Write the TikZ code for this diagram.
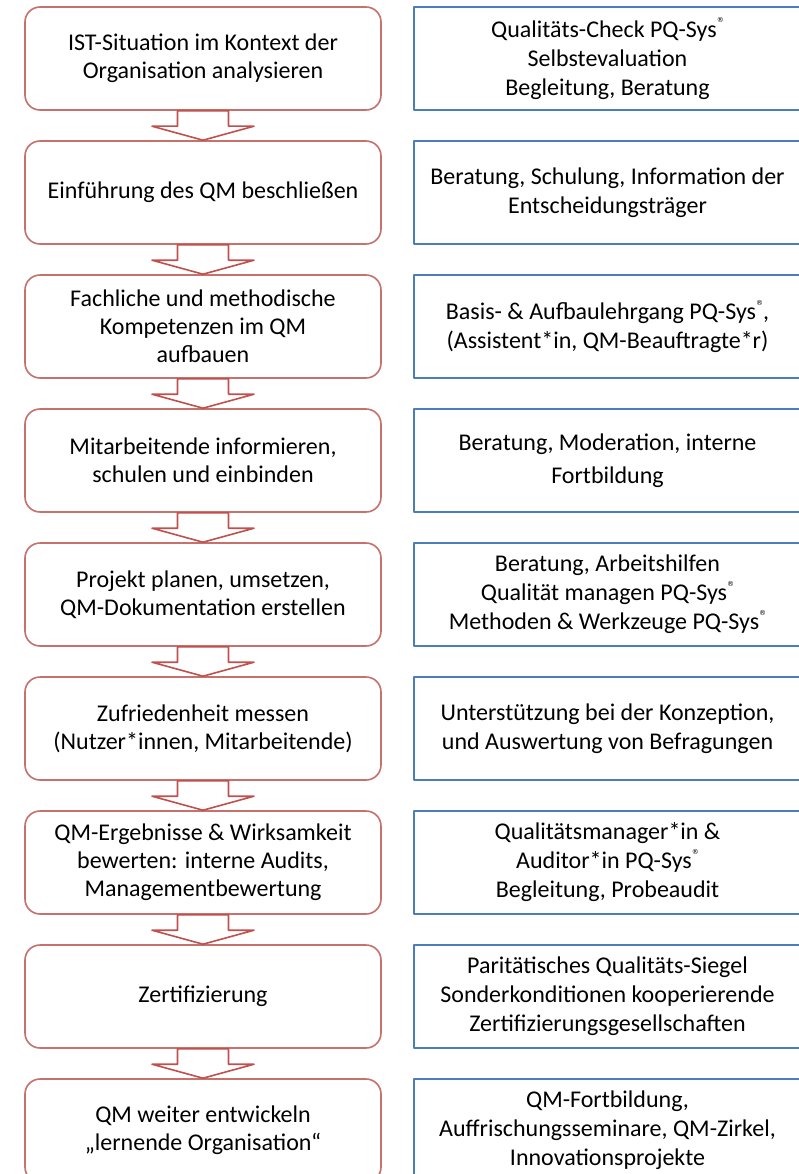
\documentclass[tikz,border=0pt]{standalone}
\usepackage{fontspec}
\setmainfont{Carlito}
\newfontfamily\regfont{DejaVu Sans}
\usetikzlibrary{positioning}
\definecolor{FigureRed}{HTML}{C0504D}
\definecolor{FigureRose}{HTML}{C6716C}
\definecolor{FigureBlue}{HTML}{4A7EBB}
\newcommand{\regmark}{\raisebox{1.25ex}{\regfont\fontsize{7}{7}\selectfont ®}}

\begin{document}
\begin{tikzpicture}[line join=round,
  stepbox/.style={draw=FigureRose,line width=1.6pt,rounded corners=15pt,fill=white,minimum width=356pt,minimum height=103pt,align=center,inner sep=0pt,font=\fontsize{24}{28}\selectfont},
  infobox/.style={draw=FigureBlue,line width=1.6pt,minimum width=387pt,minimum height=103pt,align=center,inner sep=0pt,font=\fontsize{24}{29}\selectfont},
  blockarrow/.style={draw=FigureRed,line width=1.6pt,fill=white}]
  \useasboundingbox (0,0) rectangle (799pt,-1174pt);
  \clip (0,0) rectangle (799pt,-1174pt);
  % steps
  \node[stepbox] (l1) at (203pt,-58.5pt) {IST-Situation im Kontext der\\Organisation analysieren};
  \node[stepbox,below=29.4pt of l1] (l2) {Einführung des QM beschließen};
  \node[stepbox,below=29.4pt of l2] (l3) {Fachliche und methodische\\Kompetenzen im QM\\aufbauen};
  \node[stepbox,below=29.4pt of l3] (l4) {Mitarbeitende informieren,\\schulen und einbinden};
  \node[stepbox,below=29.4pt of l4] (l5) {Projekt planen, umsetzen,\\QM-Dokumentation erstellen};
  \node[stepbox,below=29.4pt of l5] (l6) {Zufriedenheit messen\\(Nutzer*innen, Mitarbeitende)};
  \node[stepbox,below=29.4pt of l6] (l7) {QM-Ergebnisse \& Wirksamkeit\\bewerten: interne Audits,\\Managementbewertung};
  \node[stepbox,below=29.4pt of l7] (l8) {Zertifizierung};
  \node[stepbox,below=29.4pt of l8] (l9) {QM weiter entwickeln\\„lernende Organisation“};
  % offers
  \node[infobox,right=31.4pt of l1] (r1) {Qualitäts-Check PQ-Sys\regmark\\Selbstevaluation\\Begleitung, Beratung};
  \node[infobox,right=31.4pt of l2] (r2) {Beratung, Schulung, Information der\\Entscheidungsträger};
  \node[infobox,right=31.4pt of l3] (r3) {Basis- \& Aufbaulehrgang PQ-Sys\regmark,\\(Assistent*in, QM-Beauftragte*r)};
  \node[infobox,right=31.4pt of l4] (r4) {Beratung, Moderation, interne\\[4pt]Fortbildung};
  \node[infobox,right=31.4pt of l5] (r5) {Beratung, Arbeitshilfen\\Qualität managen PQ-Sys\regmark\\Methoden \& Werkzeuge PQ-Sys\regmark};
  \node[infobox,right=31.4pt of l6] (r6) {Unterstützung bei der Konzeption,\\und Auswertung von Befragungen};
  \node[infobox,right=31.4pt of l7] (r7) {Qualitätsmanager*in \&\\Auditor*in PQ-Sys\regmark\\Begleitung, Probeaudit};
  \node[infobox,right=31.4pt of l8] (r8) {Paritätisches Qualitäts-Siegel\\Sonderkonditionen kooperierende\\Zertifizierungsgesellschaften};
  \node[infobox,right=31.4pt of l9] (r9) {QM-Fortbildung,\\Auffrischungsseminare, QM-Zirkel,\\Innovationsprojekte};
  % block arrows
  \foreach \i/\j in {1/2,2/3,3/4,4/5,5/6,6/7,7/8,8/9}
    \draw[blockarrow] ([xshift=-25.5pt]l\i.south) -- ([xshift=-25.5pt,yshift=14pt]l\j.north)
      -- ([xshift=-51pt,yshift=14pt]l\j.north) -- (l\j.north) -- ([xshift=51pt,yshift=14pt]l\j.north)
      -- ([xshift=25.5pt,yshift=14pt]l\j.north) -- ([xshift=25.5pt]l\i.south) -- cycle;
\end{tikzpicture}
\end{document}
